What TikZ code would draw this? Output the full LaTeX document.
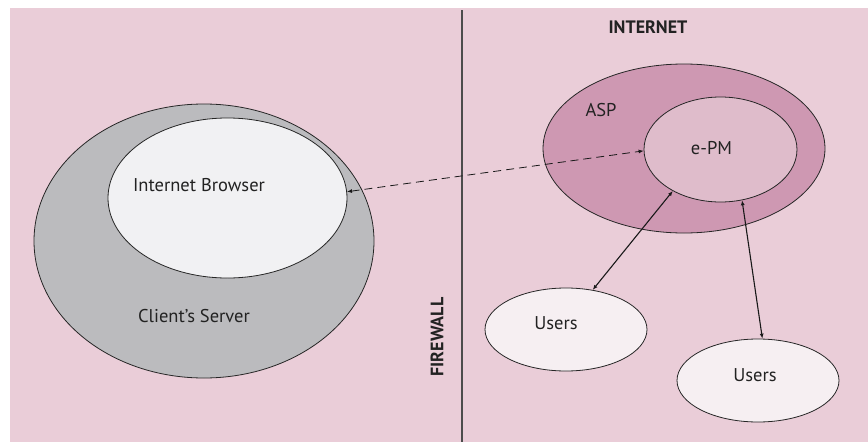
\documentclass[tikz,border=0pt]{standalone}
\usepackage{fontspec}
\setmainfont{PT Sans}
\usetikzlibrary{shapes.geometric,arrows.meta}
\definecolor{bgpink}{HTML}{EACDD8}
\definecolor{asp}{HTML}{CE98B2}
\definecolor{epm}{HTML}{DFBCCB}
\definecolor{srv}{HTML}{BBBBBE}
\definecolor{brw}{HTML}{F1F1F3}
\definecolor{usr}{HTML}{F6EFF2}
\definecolor{txt}{HTML}{222222}
\tikzset{
  blob/.style={ellipse, draw=black!85, line width=0.8pt, inner sep=0pt},
  lbl/.style={font=\fontsize{18.5}{20}\selectfont, text=txt, inner sep=0pt},
  head/.style={font=\bfseries\fontsize{18}{20}\selectfont, text=txt, inner sep=0pt},
  link/.style={line width=1.1pt, draw=black!90, {Latex[length=5pt,width=4pt]}-{Latex[length=5pt,width=4pt]}},
  dlink/.style={line width=0.8pt, draw=black!90, dash pattern=on 8pt off 5pt, {Latex[length=5pt,width=4pt]}-{Latex[length=5pt,width=4pt]}}
}
\begin{document}
\begin{tikzpicture}[x=1pt,y=-1pt]
\useasboundingbox (0,0) rectangle (868,442);
\fill[white] (0,0) rectangle (868,442);
\fill[bgpink] (10,8) rectangle (868,442);
\draw[line width=1.1pt, black!70] (462,10) -- (462,442);
% left side
\node[blob, fill=srv, minimum width=340pt, minimum height=274pt] (server) at (204,241) {};
\node[blob, fill=brw, minimum width=239pt, minimum height=160pt] (browser) at (227.5,198) {};
\node[lbl] (tbrowser) at (199,185) {Internet Browser};
\node[lbl] (tserver) at (194,316) {Client’s Server};
% right side
\node[head] (tinternet) at (648,27) {INTERNET};
\node[head, rotate=90] (tfirewall) at (437,337) {FIREWALL};
\node[blob, fill=asp, minimum width=282pt, minimum height=169pt] (aspe) at (684,148.5) {};
\node[blob, fill=epm, minimum width=153pt, minimum height=105pt] (epme) at (720.5,149.5) {};
\node[lbl] (tasp) at (601,110) {ASP};
\node[lbl] (tepm) at (711.5,148) {e-PM};
\node[blob, fill=usr, minimum width=162pt, minimum height=83pt] (u1) at (566,329.5) {};
\node[blob, fill=usr, minimum width=162pt, minimum height=83pt] (u2) at (758,380.5) {};
\node[lbl] (tu1) at (556,323) {Users};
\node[lbl] (tu2) at (755,375) {Users};
% connectors
\draw[dlink] (browser.3) -- (epme.181);
\draw[link] (epme.221) -- (u1.56);
\draw[link] (epme.293.6) -- (u2.84.5);
\end{tikzpicture}
\end{document}
